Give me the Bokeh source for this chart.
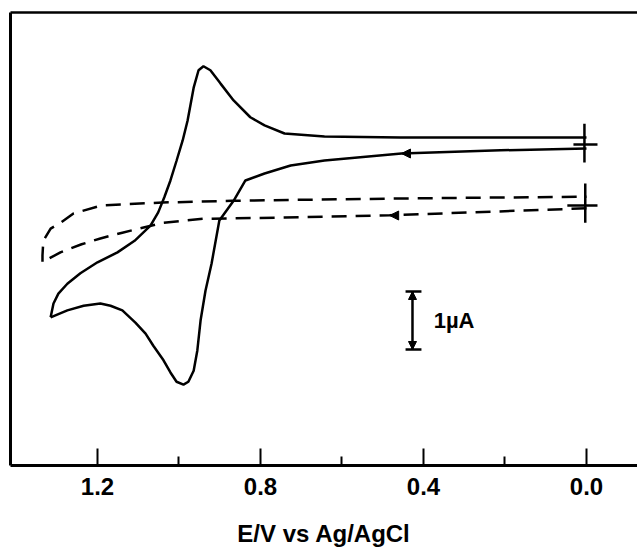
from bokeh.plotting import figure
from bokeh.models import (Range1d, LinearAxis, FixedTicker, Arrow, NormalHead,
                          Label, PrintfTickFormatter)
from bokeh.embed import file_html
from bokeh.resources import INLINE

# ---- data (E in V vs Ag/AgCl, current in µA) ----
solid_fwd_E = [0.000, 0.211, 0.454, 0.643, 0.726, 0.790, 0.837, 0.866, 0.901, 0.920,
               0.935, 0.947, 0.955, 0.964, 0.977, 0.989, 1.006, 1.021, 1.038, 1.063,
               1.082, 1.107, 1.139, 1.168, 1.193, 1.234, 1.274, 1.315]
solid_fwd_I = [-0.07, -0.10, -0.155, -0.276, -0.362, -0.50, -0.62, -0.97, -1.31, -2.05,
               -2.52, -3.03, -3.55, -3.90, -4.09, -4.14, -4.09, -3.93, -3.72, -3.47,
               -3.26, -3.07, -2.86, -2.78, -2.74, -2.78, -2.86, -2.98]
solid_rev_E = [1.315, 1.308, 1.296, 1.274, 1.242, 1.200, 1.151, 1.109, 1.070, 1.051,
               1.036, 1.021, 1.006, 0.991, 0.979, 0.964, 0.952, 0.940, 0.923, 0.898,
               0.866, 0.825, 0.790, 0.741, 0.643, 0.456, 0.000]
solid_rev_I = [-2.98, -2.74, -2.57, -2.40, -2.22, -2.03, -1.86, -1.66, -1.40, -1.17,
               -0.91, -0.62, -0.28, 0.07, 0.41, 0.98, 1.28, 1.35, 1.28, 1.05,
               0.76, 0.47, 0.33, 0.19, 0.14, 0.12, 0.12]

dash_fwd_E = [0.000, 0.483, 0.741, 0.940, 1.040, 1.139, 1.193, 1.239, 1.291, 1.320, 1.335]
dash_fwd_I = [-1.10, -1.22, -1.26, -1.28, -1.35, -1.52, -1.62, -1.72, -1.86, -1.97, -2.02]
dash_rev_E = [1.335, 1.335, 1.333, 1.315, 1.291, 1.259, 1.190, 1.040, 0.871, 0.456, 0.000]
dash_rev_I = [-2.02, -1.91, -1.66, -1.45, -1.35, -1.19, -1.05, -1.00, -0.97, -0.93, -0.90]

# zero-current markers at E = 0 (vertical and horizontal strokes)
zero_v_E = [0.005, 0.003]
zero_v_I0 = [0.36, -0.67]
zero_v_I1 = [-0.31, -1.35]
zero_h_E0 = [0.032, 0.047]
zero_h_E1 = [-0.027, -0.027]
zero_h_I = [0.0, -1.05]

# scan direction arrows (position on the forward scans)
arrow_E = [0.454, 0.483]
arrow_I = [-0.155, -1.224]

# 1 µA scale bar
bar_E = 0.427
bar_I = [-3.534, -2.534]
bar_cap_E = [0.444, 0.405]
bar_label = "1µA"
bar_label_E = 0.375

x_major = [1.2, 0.8, 0.4, 0.0]
x_minor = [1.0, 0.6, 0.2]
x_title = "E/V vs Ag/AgCl"

FONT = "Liberation Sans"

p = figure(width=637, height=549, output_backend="svg", toolbar_location=None,
           x_range=Range1d(1.4135, -0.1252), y_range=Range1d(-5.534, 2.276),
           min_border_left=10, min_border_right=0, min_border_top=12, min_border_bottom=84)
p.outline_line_color = None
p.grid.visible = False
p.background_fill_color = "white"
p.border_fill_color = "white"

# bottom axis
xa = p.xaxis[0]
xa.ticker = FixedTicker(ticks=x_major, minor_ticks=x_minor)
xa.formatter = PrintfTickFormatter(format="%.1f")
xa.major_tick_in = 17
xa.major_tick_out = 0
xa.minor_tick_in = 9
xa.minor_tick_out = 0
xa.major_tick_line_width = 2
xa.minor_tick_line_width = 2
xa.axis_line_width = 3
xa.major_label_text_font = FONT
xa.major_label_text_font_size = "24px"
xa.major_label_text_font_style = "bold"
xa.major_label_text_color = "black"
xa.major_label_standoff = 12
xa.axis_label = x_title
xa.axis_label_text_font = FONT
xa.axis_label_text_font_size = "24px"
xa.axis_label_text_font_style = "bold"
xa.axis_label_text_color = "black"
xa.axis_label_standoff = 22

# left axis: line only
ya = p.yaxis[0]
ya.ticker = FixedTicker(ticks=[])
ya.major_tick_in = 0
ya.major_tick_out = 0
ya.minor_tick_in = 0
ya.minor_tick_out = 0
ya.major_label_standoff = 0
ya.axis_line_width = 3

# top axis: line only
ta = LinearAxis(ticker=FixedTicker(ticks=[]), major_tick_in=0, major_tick_out=0,
                minor_tick_in=0, minor_tick_out=0, major_label_standoff=0,
                axis_line_width=2.5)
p.add_layout(ta, "above")

# curves
p.line(solid_fwd_E, solid_fwd_I, line_color="black", line_width=2.5)
p.line(solid_rev_E, solid_rev_I, line_color="black", line_width=2.5)
p.line(dash_fwd_E, dash_fwd_I, line_color="black", line_width=2.5, line_dash="15 9")
p.line(dash_rev_E, dash_rev_I, line_color="black", line_width=2.5, line_dash="15 9")

# zero markers
p.segment(x0=zero_v_E, y0=zero_v_I0, x1=zero_v_E, y1=zero_v_I1, line_color="black", line_width=2.5)
p.segment(x0=zero_h_E0, y0=zero_h_I, x1=zero_h_E1, y1=zero_h_I, line_color="black", line_width=2.5)

# direction arrows
for e, i in zip(arrow_E, arrow_I):
    p.add_layout(Arrow(end=NormalHead(size=9, fill_color="black", line_color="black"),
                       x_start=e - 0.01, y_start=i, x_end=e, y_end=i,
                       line_alpha=0))

# scale bar
p.segment(x0=[bar_E], y0=[bar_I[0]], x1=[bar_E], y1=[bar_I[1]], line_color="black", line_width=2.5)
p.segment(x0=[bar_cap_E[0], bar_cap_E[0]], y0=bar_I, x1=[bar_cap_E[1], bar_cap_E[1]], y1=bar_I,
          line_color="black", line_width=2.5)
p.add_layout(Arrow(start=NormalHead(size=8, fill_color="black", line_color="black"),
                   end=NormalHead(size=8, fill_color="black", line_color="black"),
                   x_start=bar_E, y_start=bar_I[0], x_end=bar_E, y_end=bar_I[1],
                   line_alpha=0))
p.add_layout(Label(x=bar_label_E, y=(bar_I[0] + bar_I[1]) / 2, text=bar_label,
                   text_font=FONT, text_font_size="22px", text_font_style="bold",
                   text_baseline="middle", text_align="left", text_color="black"))

open("out.html", "w").write(file_html(p, INLINE))
